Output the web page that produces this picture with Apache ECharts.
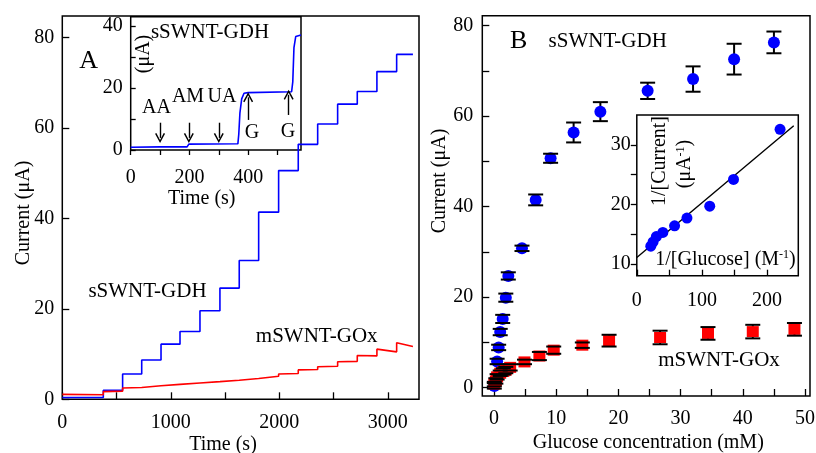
<!DOCTYPE html>
<html>
<head>
<meta charset="utf-8">
<script src="https://cdn.jsdelivr.net/npm/echarts@6/dist/echarts.min.js"></script>
<style>
  html, body { margin: 0; padding: 0; background: #fff; }
  #chart { width: 816px; height: 453px; }
</style>
</head>
<body>
<div id="chart"></div>
<script>
// ---- panel A: amperometric traces (time in s, current in uA)
const stepTimes = [0, 378, 556, 732, 910, 1085, 1269, 1453, 1631, 1810, 1994, 2175, 2354, 2538, 2719, 2900, 3082];
const traceEnd = 3232;
const gdhLevels = [0.4, 2.0, 5.6, 8.7, 12.2, 15.0, 19.6, 24.6, 30.7, 41.4, 50.6, 56.4, 60.9, 65.3, 68.1, 72.5, 76.3];
const goxLevelStart = [1.1, 1.7, 2.5, 2.9, 3.2, 3.5, 3.8, 4.1, 4.5, 5.0, 5.6, 6.5, 7.2, 8.3, 9.7, 11.1, 12.5];
const goxLevelEnd = [1.0, 1.8, 2.6, 3.0, 3.3, 3.6, 3.9, 4.2, 4.6, 5.1, 5.7, 6.6, 7.3, 8.4, 9.6, 10.5, 11.7];

// inset A: interference test
const insetTime = [0, 100, 192, 198, 365, 368, 372, 378, 386, 400, 548, 552, 556, 562, 580];
const insetCurrent = [0.9, 1.0, 1.0, 1.9, 2.0, 5.0, 12.0, 16.5, 18.3, 18.5, 18.8, 22.0, 33.0, 36.6, 37.1];
const interferents = ['AA', 'AM', 'UA'];
const interferentTimes = [100, 198, 300];
const glucoseTimes = [400, 538];

// ---- panel B: calibration (mM, uA, error)
const gdhConc = [0.05, 0.5, 0.75, 1.0, 1.4, 1.9, 2.3, 4.5, 6.7, 9.1, 12.8, 17.1, 24.7, 32.0, 38.6, 45.0];
const gdhCurrent = [0.4, 5.8, 8.9, 12.3, 15.2, 19.9, 24.7, 30.8, 41.5, 50.7, 56.4, 61.0, 65.6, 68.2, 72.6, 76.3];
const gdhErr = [0.6, 0.6, 0.6, 0.7, 0.9, 0.9, 0.8, 0.6, 1.2, 1.0, 2.2, 2.1, 1.8, 2.8, 3.4, 2.4];
const goxConc = [0.05, 0.3, 0.5, 1.0, 1.5, 1.9, 2.6, 4.9, 7.3, 9.6, 14.2, 18.5, 26.7, 34.4, 41.6, 48.3];
const goxCurrent = [0.8, 1.5, 2.4, 3.2, 3.6, 3.9, 4.5, 5.7, 7.0, 8.3, 9.4, 10.4, 11.1, 12.0, 12.4, 12.9];
const goxErr = [0.5, 0.6, 0.6, 0.6, 0.7, 0.7, 0.7, 0.5, 0.9, 0.8, 0.6, 1.3, 1.5, 1.4, 1.5, 1.4];

// inset B: double reciprocal plot
const recipGlucose = [21.5, 25, 30, 40, 58, 77, 112, 148.5, 220];
const recipCurrent = [13.0, 13.7, 14.6, 15.3, 16.4, 17.7, 19.7, 24.2, 32.6];
const fitX = [0, 241];
const fitY = [11.1, 33.2];

// tick values
const aTimeTicks = [0, 500, 1000, 1500, 2000, 2500, 3000];
const aTimeLabels = [0, 1000, 2000, 3000];
const aCurrentTicks = [0, 20, 40, 60, 80];
const insetTimeTicks = [0, 100, 200, 300, 400, 500];
const insetTimeLabels = [0, 200, 400];
const insetCurrentTicks = [0, 10, 20, 30, 40];
const insetCurrentLabels = [0, 20, 40];
const bConcTicks = [0, 5, 10, 15, 20, 25, 30, 35, 40, 45, 50];
const bConcLabels = [0, 10, 20, 30, 40, 50];
const bCurrentTicks = [0, 10, 20, 30, 40, 50, 60, 70, 80];
const bCurrentLabels = [0, 20, 40, 60, 80];
const recipXTicks = [0, 50, 100, 150, 200];
const recipXLabels = [0, 100, 200];
const recipYTicks = [10, 15, 20, 25, 30];
const recipYLabels = [10, 20, 30];

const FONT = '"Liberation Serif", "Times New Roman", serif';

function stepData(levelsStart, levelsEnd) {
  const out = [];
  for (let i = 0; i < stepTimes.length; i++) {
    const t1 = i + 1 < stepTimes.length ? stepTimes[i + 1] : traceEnd;
    out.push([stepTimes[i], levelsStart[i]]);
    out.push([t1, levelsEnd[i]]);
  }
  return out;
}

function axis(gridIndex, min, max, ticks, labels, inside, tickLen, margin) {
  return {
    type: 'value', gridIndex, min, max,
    axisLine: { show: false, onZero: false },
    splitLine: { show: false },
    axisTick: { show: true, inside, length: tickLen, customValues: ticks, lineStyle: { color: '#000', width: 1.3 } },
    axisLabel: { customValues: labels, color: '#000', fontFamily: FONT, fontSize: 20, margin, formatter: v => String(v) }
  };
}

function errorBars(xs, ys, es, xi, yi, caps) {
  return {
    type: 'custom', xAxisIndex: xi, yAxisIndex: yi, z: caps ? 5 : 1,
    silent: true,
    data: xs.map((x, i) => [x, ys[i] - es[i], ys[i] + es[i]]),
    renderItem: (params, api) => {
      const lo = api.coord([api.value(0), api.value(1)]);
      const hi = api.coord([api.value(0), api.value(2)]);
      const style = { stroke: '#000', lineWidth: 2 };
      const w = 7.5;
      if (caps) {
        return {
          type: 'group', children: [
            { type: 'line', shape: { x1: lo[0] - w, y1: lo[1], x2: lo[0] + w, y2: lo[1] }, style },
            { type: 'line', shape: { x1: hi[0] - w, y1: hi[1], x2: hi[0] + w, y2: hi[1] }, style }
          ]
        };
      }
      return { type: 'line', shape: { x1: lo[0], y1: lo[1], x2: hi[0], y2: hi[1] }, style };
    }
  };
}

const vArrow = 'path://M5,0 L10,10 L8.7,10.8 L5,3.2 L1.3,10.8 L0,10 Z';
const arrowLines = interferentTimes.map(t => [{ coord: [t, 8.8] }, { coord: [t, 3.9] }])
  .concat([[{ coord: [glucoseTimes[0], 9.7] }, { coord: [glucoseTimes[0], 17.0] }],
           [{ coord: [glucoseTimes[1], 11.3] }, { coord: [glucoseTimes[1], 17.8] }]]);

function txt(text, x, y, size, rot) {
  return {
    type: 'text', x, y, rotation: rot || 0, silent: true,
    style: { text, fill: '#000', font: size + 'px ' + FONT, textAlign: 'center', textVerticalAlign: 'middle' }
  };
}
function richTxt(text, x, y, size, rot) {
  return {
    type: 'text', x, y, rotation: rot || 0, silent: true,
    style: {
      text, fill: '#000', fontFamily: FONT, fontSize: size, textAlign: 'center', textVerticalAlign: 'middle',
      rich: { sup: { fontFamily: FONT, fontSize: 12, verticalAlign: 'top', fill: '#000' } }
    }
  };
}

const gridBase = { show: true, borderColor: '#000', borderWidth: 1.5, containLabel: false, outerBoundsMode: 'none' };

const chart = echarts.init(document.getElementById('chart'));
chart.setOption({
  animation: false,
  backgroundColor: '#fff',
  grid: [
    Object.assign({ left: 62.3, top: 16, width: 356.7, height: 383.3 }, gridBase),
    Object.assign({ left: 130.7, top: 16.7, width: 170.3, height: 133.3 }, gridBase),
    Object.assign({ left: 482.3, top: 15.7, width: 327.7, height: 380.3 }, gridBase),
    Object.assign({ left: 636.8, top: 115, width: 161.5, height: 160.7 }, gridBase)
  ],
  xAxis: [
    axis(0, 0, 3288, aTimeTicks, aTimeLabels, true, 7, 13),
    axis(1, 0, 580, insetTimeTicks, insetTimeLabels, false, 5, 18),
    axis(2, -1.88, 50.8, bConcTicks, bConcLabels, true, 7, 12.5),
    axis(3, 0, 248, recipXTicks, recipXLabels, true, 6, 15)
  ],
  yAxis: [
    axis(0, 0, 84.8, aCurrentTicks, aCurrentTicks, true, 7, 8),
    axis(1, 0, 43, insetCurrentTicks, insetCurrentLabels, true, 5, 8),
    axis(2, -1.83, 82.2, bCurrentTicks, bCurrentLabels, true, 7, 9),
    axis(3, 8.04, 35, recipYTicks, recipYLabels, false, 6, 6)
  ],
  series: [
    {
      name: 'sSWNT-GDH', type: 'line', xAxisIndex: 0, yAxisIndex: 0,
      data: stepData(gdhLevels, gdhLevels), showSymbol: false,
      lineStyle: { color: '#0000ff', width: 1.6 }
    },
    {
      name: 'mSWNT-GOx', type: 'line', xAxisIndex: 0, yAxisIndex: 0,
      data: stepData(goxLevelStart, goxLevelEnd), showSymbol: false,
      lineStyle: { color: '#ff0000', width: 1.6 }
    },
    {
      name: 'inset interference', type: 'line', xAxisIndex: 1, yAxisIndex: 1,
      data: insetTime.map((t, i) => [t, insetCurrent[i]]), showSymbol: false,
      lineStyle: { color: '#0000ff', width: 1.6 },
      markLine: {
        silent: true, symbol: ['none', vArrow], symbolSize: 10,
        label: { show: false },
        lineStyle: { color: '#000', width: 1.4, type: 'solid' },
        data: arrowLines
      }
    },
    errorBars(gdhConc, gdhCurrent, gdhErr, 2, 2, false),
    errorBars(goxConc, goxCurrent, goxErr, 2, 2, false),
    {
      name: 'sSWNT-GDH cal', type: 'scatter', xAxisIndex: 2, yAxisIndex: 2, z: 3,
      data: gdhConc.map((c, i) => [c, gdhCurrent[i]]),
      symbol: 'circle', symbolSize: 12, itemStyle: { color: '#0000ff', opacity: 1 }
    },
    {
      name: 'mSWNT-GOx cal', type: 'scatter', xAxisIndex: 2, yAxisIndex: 2, z: 3,
      data: goxConc.map((c, i) => [c, goxCurrent[i]]),
      symbol: 'rect', symbolSize: [12, 11], itemStyle: { color: '#ff0000', opacity: 1 }
    },
    errorBars(gdhConc, gdhCurrent, gdhErr, 2, 2, true),
    errorBars(goxConc, goxCurrent, goxErr, 2, 2, true),
    {
      name: 'fit', type: 'line', xAxisIndex: 3, yAxisIndex: 3,
      data: fitX.map((x, i) => [x, fitY[i]]), showSymbol: false,
      lineStyle: { color: '#000', width: 1.4 }
    },
    {
      name: 'reciprocal', type: 'scatter', xAxisIndex: 3, yAxisIndex: 3, z: 3,
      data: recipGlucose.map((x, i) => [x, recipCurrent[i]]),
      symbol: 'circle', symbolSize: 11, itemStyle: { color: '#0000ff', opacity: 1 }
    }
  ],
  graphic: [
    txt('A', 88.7, 61, 26),
    txt('B', 518.7, 41, 26),
    txt('sSWNT-GDH', 147.5, 291.7, 21),
    txt('mSWNT-GOx', 316.7, 336, 21),
    txt('sSWNT-GDH', 210, 32.3, 21),
    txt('(μA)', 144, 54, 20, Math.PI / 2),
    txt('Time (s)', 201.7, 198.3, 20),
    txt('Time (s)', 223, 444.5, 20),
    txt('Current (μA)', 23.5, 213, 20, Math.PI / 2),
    txt(interferents[0], 156.5, 108, 20),
    txt(interferents[1], 188, 97, 20),
    txt(interferents[2], 222, 97, 20),
    txt('G', 252, 133, 20),
    txt('G', 288, 132, 20),
    txt('Current (μA)', 440, 181, 20, Math.PI / 2),
    txt('Glucose concentration (mM)', 648.3, 443, 20),
    txt('sSWNT-GDH', 607.7, 41.7, 21),
    txt('mSWNT-GOx', 719, 360, 21),
    txt('1/[Current]', 660, 161, 20, Math.PI / 2),
    richTxt('(μA{sup|-1})', 685, 164, 20, Math.PI / 2),
    richTxt('1/[Glucose] (M{sup|-1})', 725.5, 259.3, 20)
  ]
});
</script>
</body>
</html>
